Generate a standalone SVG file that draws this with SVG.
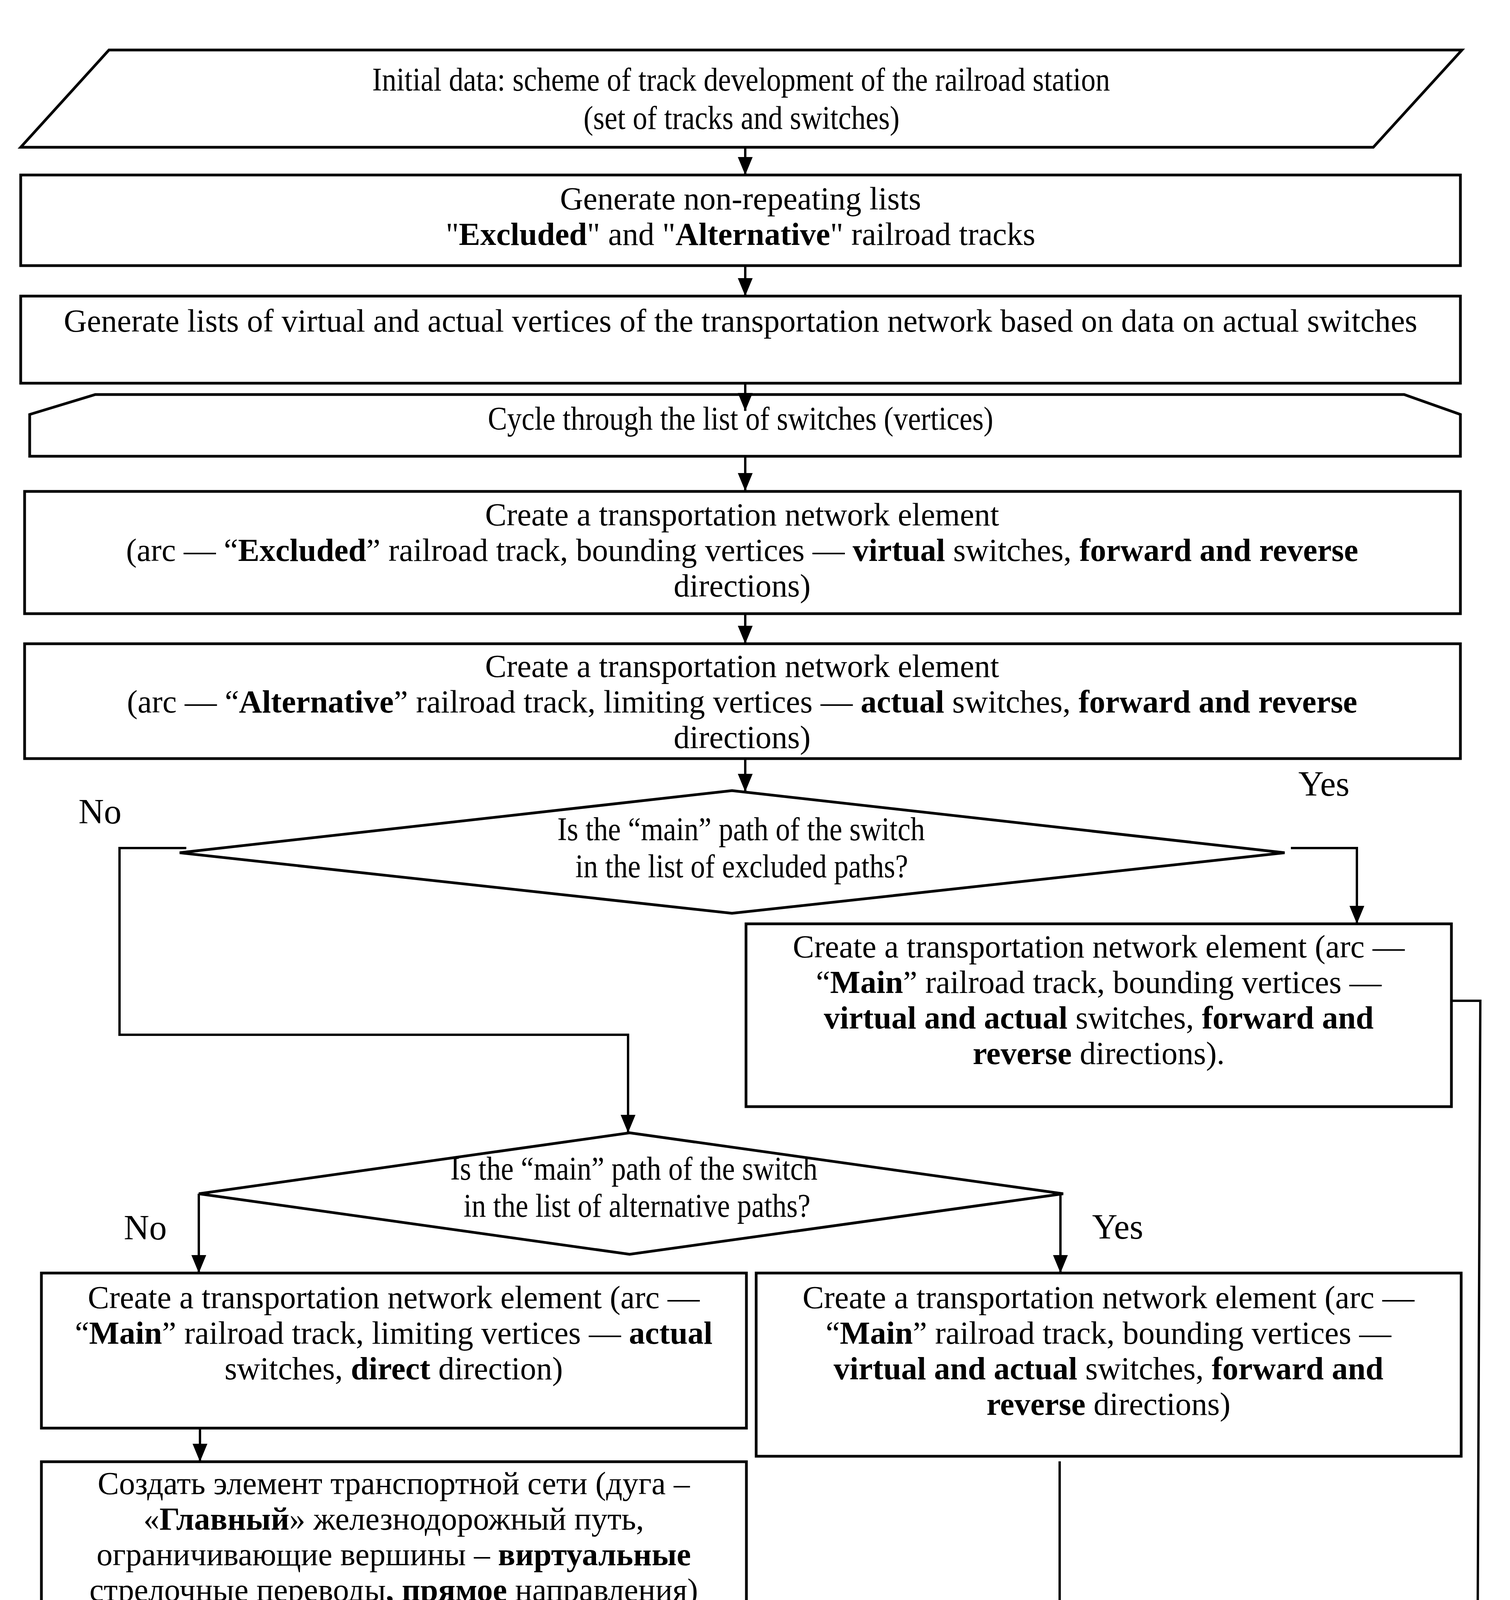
<svg xmlns="http://www.w3.org/2000/svg" width="3866" height="5664" viewBox="0 0 3866 5664">
<style>
.shape{fill:#fff;stroke:#000;stroke-width:7;stroke-linejoin:miter}
.conn{fill:none;stroke:#000;stroke-width:6}
.t{font-family:"Liberation Serif","Times New Roman",serif;font-size:82px;fill:#000;text-anchor:middle}
.c{font-family:"Liberation Serif","Times New Roman",serif;font-size:84px;fill:#000}
.lbl{font-family:"Liberation Serif","Times New Roman",serif;font-size:90px;fill:#000}
.b{font-weight:bold}
</style>
<defs>
<marker id="ah" markerUnits="userSpaceOnUse" markerWidth="46" markerHeight="38" refX="46" refY="19" orient="auto">
<path d="M0,0 L46,19 L0,38 z" fill="#000"/>
</marker>
</defs>
<rect width="3866" height="5664" fill="#fff"/>

<g id="n-input">
<polygon class="shape" points="279,128 3743,128 3516,377 53,377"/>
<text class="c" x="953" y="232" textLength="1889" lengthAdjust="spacingAndGlyphs">Initial data: scheme of track development of the railroad station</text>
<text class="c" x="1494" y="330" textLength="809" lengthAdjust="spacingAndGlyphs">(set of tracks and switches)</text>
</g>

<g id="n-lists">
<rect class="shape" x="53" y="448" width="3686" height="232"/>
<text class="t" x="1896" y="536">Generate non-repeating lists</text>
<text class="t" x="1896" y="627">"<tspan class="b">Excluded</tspan>" and "<tspan class="b">Alternative</tspan>" railroad tracks</text>
</g>

<g id="n-vertices">
<rect class="shape" x="53" y="758" width="3686" height="223"/>
<text class="t" x="1896" y="849">Generate lists of virtual and actual vertices of the transportation network based on data on actual switches</text>
</g>

<g id="n-cycle">
<polygon class="shape" points="244,1010 3595,1010 3739,1061 3739,1168 76,1168 76,1061"/>
<text class="c" x="1249" y="1100" textLength="1294" lengthAdjust="spacingAndGlyphs">Cycle through the list of switches (vertices)</text>
</g>

<g id="n-excluded">
<rect class="shape" x="63" y="1258" width="3676" height="313"/>
<text class="t" x="1900" y="1345">Create a transportation network element</text>
<text class="t" x="1900" y="1436">(arc — “<tspan class="b">Excluded</tspan>” railroad track, bounding vertices — <tspan class="b">virtual</tspan> switches, <tspan class="b">forward and reverse</tspan></text>
<text class="t" x="1900" y="1527">directions)</text>
</g>

<g id="n-alternative">
<rect class="shape" x="63" y="1648" width="3676" height="294"/>
<text class="t" x="1900" y="1733">Create a transportation network element</text>
<text class="t" x="1900" y="1824">(arc — “<tspan class="b">Alternative</tspan>” railroad track, limiting vertices — <tspan class="b">actual</tspan> switches, <tspan class="b">forward and reverse</tspan></text>
<text class="t" x="1900" y="1915">directions)</text>
</g>

<g id="n-decision1">
<polygon class="shape" points="1874,2024 3289,2183 1874,2338 460,2183"/>
<text class="c" x="1427" y="2151" textLength="941" lengthAdjust="spacingAndGlyphs">Is the “main” path of the switch</text>
<text class="c" x="1473" y="2246" textLength="852" lengthAdjust="spacingAndGlyphs">in the list of excluded paths?</text>
</g>

<g id="n-main-yes1">
<rect class="shape" x="1910" y="2365" width="1806" height="468"/>
<text class="t" x="2813" y="2451">Create a transportation network element (arc —</text>
<text class="t" x="2813" y="2542">“<tspan class="b">Main</tspan>” railroad track, bounding vertices —</text>
<text class="t" x="2813" y="2633"><tspan class="b">virtual and actual</tspan> switches, <tspan class="b">forward and</tspan></text>
<text class="t" x="2813" y="2724"><tspan class="b">reverse</tspan> directions).</text>
</g>

<g id="n-decision2">
<polygon class="shape" points="1612,2900 2722,3056 1612,3211 509,3056"/>
<text class="c" x="1153" y="3020" textLength="940" lengthAdjust="spacingAndGlyphs">Is the “main” path of the switch</text>
<text class="c" x="1187" y="3115" textLength="888" lengthAdjust="spacingAndGlyphs">in the list of alternative paths?</text>
</g>

<g id="n-main-direct">
<rect class="shape" x="106" y="3259" width="1805" height="397"/>
<text class="t" x="1008" y="3349">Create a transportation network element (arc —</text>
<text class="t" x="1008" y="3440">“<tspan class="b">Main</tspan>” railroad track, limiting vertices — <tspan class="b">actual</tspan></text>
<text class="t" x="1008" y="3531">switches, <tspan class="b">direct</tspan> direction)</text>
</g>

<g id="n-main-yes2">
<rect class="shape" x="1936" y="3259" width="1805" height="469"/>
<text class="t" x="2838" y="3349">Create a transportation network element (arc —</text>
<text class="t" x="2838" y="3440">“<tspan class="b">Main</tspan>” railroad track, bounding vertices —</text>
<text class="t" x="2838" y="3531"><tspan class="b">virtual and actual</tspan> switches, <tspan class="b">forward and</tspan></text>
<text class="t" x="2838" y="3622"><tspan class="b">reverse</tspan> directions)</text>
</g>

<g id="n-main-ru">
<rect class="shape" x="106" y="3742" width="1805" height="384"/>
<text class="t" x="1008" y="3825">Создать элемент транспортной сети (дуга –</text>
<text class="t" x="1008" y="3916">«<tspan class="b">Главный</tspan>» железнодорожный путь,</text>
<text class="t" x="1008" y="4007">ограничивающие вершины – <tspan class="b">виртуальные</tspan></text>
<text class="t" x="1008" y="4098">стрелочные переводы<tspan class="b">, прямое</tspan> направления)</text>
</g>

<g id="n-main-va">
<rect class="shape" x="106" y="4212" width="1805" height="386"/>
<text class="t" x="1008" y="4302">Create a transportation network element (arc —</text>
<text class="t" x="1008" y="4393">“<tspan class="b">Main</tspan>” railroad track, initial vertex — <tspan class="b">virtual</tspan></text>
<text class="t" x="1008" y="4484">switch, final vertex — <tspan class="b">actual</tspan>)</text>
</g>

<g id="n-main-av">
<rect class="shape" x="106" y="4673" width="1805" height="384"/>
<text class="t" x="1008" y="4762">Create a transportation network element (arc —</text>
<text class="t" x="1008" y="4853">“<tspan class="b">Main</tspan>” railroad track, initial vertex — <tspan class="b">actual</tspan></text>
<text class="t" x="1008" y="4944">switch, final vertex — <tspan class="b">virtual</tspan>)</text>
</g>

<g id="n-endcycle">
<polygon class="shape" points="115,5212 3779,5212 3779,5295 3606,5335 259,5335 115,5295"/>
<text class="c" x="1415" y="5306" textLength="1042" lengthAdjust="spacingAndGlyphs">End of cycle on the list of switches</text>
</g>

<g id="n-result">
<ellipse class="shape" cx="1942" cy="5488" rx="1836" ry="73"/>
<text class="c" x="1282" y="5521" textLength="1341" lengthAdjust="spacingAndGlyphs">Transportation network of the railway station</text>
</g>

<g id="connectors">
<path class="conn" d="M1908,377 V448" marker-end="url(#ah)"/>
<path class="conn" d="M1908,680 V758" marker-end="url(#ah)"/>
<path class="conn" d="M1908,981 V1052" marker-end="url(#ah)"/>
<path class="conn" d="M1908,1168 V1257" marker-end="url(#ah)"/>
<path class="conn" d="M1908,1571 V1648" marker-end="url(#ah)"/>
<path class="conn" d="M1908,1942 V2027" marker-end="url(#ah)"/>
<path class="conn" d="M477,2171 H306 V2649 H1608 V2900" marker-end="url(#ah)"/>
<path class="conn" d="M3305,2171 H3474 V2365" marker-end="url(#ah)"/>
<path class="conn" d="M509,3056 V3259" marker-end="url(#ah)"/>
<path class="conn" d="M2715,3056 V3259" marker-end="url(#ah)"/>
<path class="conn" d="M512,3656 V3742" marker-end="url(#ah)"/>
<path class="conn" d="M512,4126 V4212" marker-end="url(#ah)"/>
<path class="conn" d="M512,4598 V4673" marker-end="url(#ah)"/>
<path class="conn" d="M512,5057 V5144 H3779"/>
<path class="conn" d="M2713,3741 V5144" marker-end="url(#ah)"/>
<path class="conn" d="M3716,2562 H3790 L3779,5144"/>
<path class="conn" d="M1930,5144 V5212" marker-end="url(#ah)"/>
<path class="conn" d="M1930,5335 V5415" marker-end="url(#ah)"/>
<text class="lbl" x="201" y="2108">No</text>
<text class="lbl" x="3324" y="2037">Yes</text>
<text class="lbl" x="317" y="3173">No</text>
<text class="lbl" x="2796" y="3171">Yes</text>
</g>
</svg>
